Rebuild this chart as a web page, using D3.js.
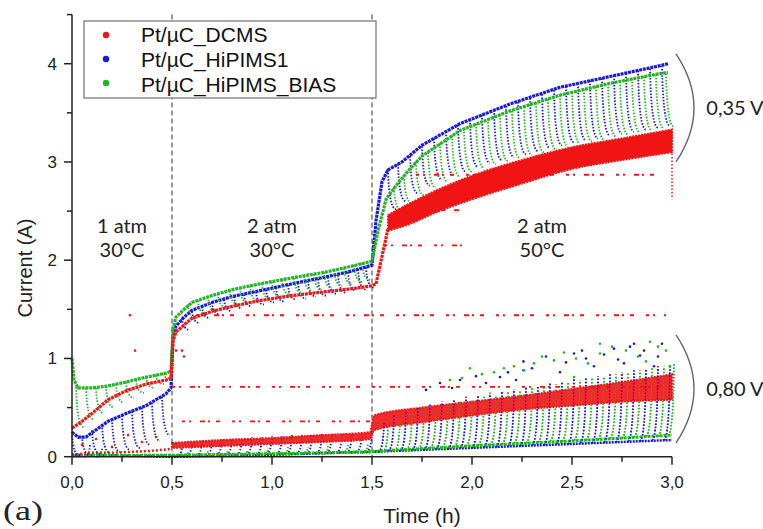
<!DOCTYPE html>
<html>
<head>
<meta charset="utf-8">
<script src="https://cdn.jsdelivr.net/npm/d3@7"></script>
<style>
  body { margin: 0; background: #fff; }
  svg { display: block; }
  .sans { font-family: "Liberation Sans", Arial, sans-serif; }
  .calib { font-family: Lato, "Open Sans", sans-serif; }
</style>
</head>
<body>
<svg id="chart" width="763" height="529"></svg>
<script>
// ---- data (time in h, current in A) ----
const seriesNames = ["Pt/µC_DCMS", "Pt/µC_HiPIMS1", "Pt/µC_HiPIMS_BIAS"];
const timeTicks = [0, 0.5, 1, 1.5, 2, 2.5, 3];
const currentTicks = [0, 1, 2, 3, 4];
const regionLabels = [["1 atm", "30°C", 0.25], ["2 atm", "30°C", 1.0], ["2 atm", "50°C", 2.35]];
const regionBounds = [0.5, 1.5];
const voltageLabels = [["0,35 V", 4.1, 3.0], ["0,80 V", 1.24, 0.14]];

// 0,35 V traces (upper envelopes)
const dcmsHigh = [[0,0.29],[0.05,0.36],[0.1,0.44],[0.18,0.58],[0.27,0.67],[0.37,0.74],[0.47,0.78],[0.495,0.8],[0.505,1.18],[0.52,1.27],[0.56,1.34],[0.6,1.41],[0.7,1.48],[0.8,1.53],[0.94,1.59],[1.1,1.64],[1.27,1.68],[1.4,1.71],[1.5,1.74],[1.52,1.76],[1.58,2.32]];
const dcmsBand = [[1.58,2.30,2.46],[1.69,2.37,2.58],[1.8,2.47,2.69],[2.0,2.62,2.86],[2.25,2.78,3.02],[2.5,2.93,3.15],[2.75,3.02,3.24],[3.0,3.10,3.33]];
const hipimsHigh = [[0,0.25],[0.03,0.2],[0.07,0.2],[0.18,0.36],[0.27,0.44],[0.37,0.52],[0.47,0.64],[0.495,0.7],[0.505,1.22],[0.52,1.33],[0.56,1.42],[0.6,1.49],[0.7,1.57],[0.8,1.63],[0.94,1.69],[1.1,1.76],[1.27,1.83],[1.4,1.89],[1.5,1.95],[1.52,2.4],[1.55,2.8],[1.58,2.92],[1.65,3.0],[1.75,3.17],[1.94,3.39],[2.19,3.59],[2.44,3.76],[2.69,3.87],[2.94,3.98],[2.98,4.0]];
const biasHigh = [[0,1.0],[0.01,0.78],[0.03,0.7],[0.1,0.7],[0.18,0.72],[0.27,0.76],[0.37,0.81],[0.47,0.85],[0.495,0.87],[0.505,1.3],[0.52,1.42],[0.56,1.5],[0.6,1.57],[0.7,1.64],[0.8,1.7],[0.94,1.76],[1.1,1.82],[1.27,1.88],[1.4,1.94],[1.5,1.99],[1.53,2.3],[1.57,2.62],[1.62,2.76],[1.69,2.93],[1.75,3.06],[1.94,3.32],[2.19,3.52],[2.44,3.68],[2.69,3.8],[2.94,3.9],[2.98,3.91]];

// decays hanging below the 0,35 V envelopes: [t, top, bottom]
const hipimsDecay = [[0.00,0.25,0.00],[0.05,0.21,0.02],[0.10,0.27,0.03],[0.15,0.33,0.04],[0.20,0.38,0.05],[0.25,0.42,0.07],[0.30,0.46,0.09],[0.35,0.50,0.12],[0.40,0.55,0.16],[0.45,0.61,0.22],
  [0.55,1.41,1.29],[0.60,1.48,1.36],[0.65,1.53,1.41],[0.70,1.57,1.45],[0.76,1.60,1.48],[0.81,1.63,1.51],[0.86,1.65,1.53],[0.92,1.68,1.55],[0.97,1.70,1.57],[1.02,1.72,1.58],[1.08,1.75,1.60],[1.13,1.77,1.61],[1.18,1.79,1.63],[1.23,1.81,1.64],[1.28,1.83,1.66],[1.33,1.85,1.67],[1.38,1.88,1.69],[1.43,1.91,1.70],[1.47,1.93,1.72],
  [1.58,2.92,2.52],[1.63,2.98,2.6],[1.69,3.06,2.68],[1.75,3.16,2.76],[1.81,3.24,2.82],[1.87,3.31,2.86],[1.93,3.38,2.9],[1.99,3.43,2.95],[2.05,3.48,2.99],[2.11,3.53,3.02],[2.17,3.57,3.05],[2.23,3.61,3.08],[2.29,3.65,3.11],[2.35,3.69,3.14],[2.41,3.73,3.17],[2.47,3.77,3.2],[2.53,3.8,3.22],[2.59,3.83,3.24],[2.65,3.85,3.27],[2.71,3.88,3.29],[2.77,3.9,3.31],[2.83,3.93,3.33],[2.89,3.95,3.35],[2.95,3.98,3.37]];
const biasDecay = [[0.02,0.71,0.30],[0.07,0.70,0.38],[0.12,0.70,0.44],[0.17,0.72,0.50],[0.22,0.74,0.55],[0.27,0.76,0.60],[0.32,0.78,0.65],[0.37,0.81,0.70],[0.42,0.83,0.74],[0.46,0.85,0.78],
  [0.58,1.55,1.40],[0.63,1.59,1.45],[0.68,1.63,1.49],[0.73,1.66,1.52],[0.79,1.69,1.55],[0.84,1.72,1.57],[0.89,1.74,1.59],[0.95,1.76,1.61],[1.00,1.78,1.63],[1.05,1.80,1.65],[1.11,1.82,1.67],[1.16,1.84,1.69],[1.21,1.86,1.70],[1.26,1.88,1.72],[1.31,1.90,1.74],[1.36,1.92,1.76],[1.41,1.95,1.78],[1.45,1.97,1.80],
  [1.61,2.74,2.5],[1.66,2.86,2.58],[1.72,3.0,2.66],[1.78,3.1,2.74],[1.84,3.19,2.8],[1.90,3.27,2.85],[1.96,3.34,2.9],[2.02,3.39,2.94],[2.08,3.44,2.98],[2.14,3.48,3.01],[2.2,3.52,3.04],[2.26,3.56,3.07],[2.32,3.6,3.1],[2.38,3.64,3.13],[2.44,3.68,3.16],[2.5,3.71,3.19],[2.56,3.74,3.21],[2.62,3.77,3.23],[2.68,3.8,3.26],[2.74,3.82,3.28],[2.8,3.85,3.3],[2.86,3.87,3.32],[2.92,3.89,3.34],[2.97,3.9,3.36]];

// 0,80 V traces (lower group)
const dcmsLow = [[0,0.02],[0.1,0.04],[0.2,0.04],[0.3,0.05],[0.4,0.06],[0.5,0.08]];
const dcmsLowBand = [[0.5,0.09,0.14],[0.75,0.11,0.17],[1.0,0.13,0.19],[1.25,0.15,0.22],[1.49,0.18,0.25],[1.51,0.27,0.42],[1.75,0.35,0.5],[2.0,0.42,0.56],[2.25,0.48,0.62],[2.5,0.52,0.69],[2.75,0.56,0.76],[3.0,0.58,0.84]];
const hipimsLow = [[0,0.02],[0.5,0.0],[1.0,0.02],[1.5,0.05],[2.0,0.09],[2.5,0.13],[3.0,0.17]];
const biasLow = [[0,0.01],[0.5,0.015],[1.0,0.03],[1.5,0.05],[1.55,0.06],[2.0,0.11],[2.5,0.16],[3.0,0.22]];
// rising streaks of the lower group: [t, bottom, top]
const hipimsRise = [[0.06,0.0,0.12],[0.12,0.0,0.08],
  [0.52,0.0,0.10],[0.57,0.01,0.14],[0.62,0.01,0.16],[0.67,0.01,0.17],[0.72,0.02,0.18],[0.77,0.02,0.19],[0.82,0.02,0.19],[0.87,0.02,0.2],[0.92,0.02,0.2],[0.97,0.03,0.21],[1.02,0.03,0.21],[1.07,0.03,0.22],[1.12,0.03,0.22],[1.17,0.03,0.23],[1.22,0.04,0.23],[1.27,0.04,0.24],[1.32,0.04,0.24],[1.37,0.04,0.25],[1.42,0.05,0.25],[1.47,0.05,0.26],
  [1.53,0.05,0.34],[1.58,0.06,0.42],[1.64,0.06,0.47],[1.70,0.07,0.5],[1.76,0.07,0.53],[1.82,0.08,0.56],[1.88,0.08,0.58],[1.94,0.09,0.61],[2.0,0.09,0.63],[2.06,0.1,0.65],[2.12,0.1,0.67],[2.18,0.11,0.69],[2.24,0.11,0.71],[2.30,0.12,0.73],[2.36,0.12,0.75],[2.42,0.13,0.77],[2.48,0.13,0.79],[2.54,0.14,0.8],[2.6,0.14,0.82],[2.66,0.15,0.84],[2.72,0.15,0.86],[2.78,0.16,0.88],[2.84,0.16,0.9],[2.9,0.17,0.92],[2.96,0.17,0.94]];
const biasRise = [[0.55,0.0,0.05],[0.65,0.01,0.06],[0.75,0.01,0.07],[0.85,0.01,0.08],[0.95,0.02,0.09],[1.05,0.02,0.1],[1.15,0.03,0.1],[1.25,0.03,0.11],[1.35,0.04,0.12],[1.45,0.04,0.13],
  [1.55,0.05,0.3],[1.61,0.06,0.38],[1.67,0.07,0.43],[1.73,0.08,0.47],[1.79,0.09,0.5],[1.85,0.1,0.53],[1.91,0.1,0.56],[1.97,0.11,0.58],[2.03,0.12,0.61],[2.09,0.12,0.63],[2.15,0.13,0.66],[2.21,0.14,0.68],[2.27,0.14,0.7],[2.33,0.15,0.72],[2.39,0.16,0.74],[2.45,0.16,0.76],[2.51,0.17,0.78],[2.57,0.17,0.8],[2.63,0.18,0.82],[2.69,0.19,0.84],[2.75,0.19,0.86],[2.81,0.2,0.88],[2.87,0.21,0.9],[2.93,0.21,0.92],[2.98,0.22,0.94]];

// stray points
const dcmsLevels = [[1.44,0.62,2.97],[0.71,0.5,3.0],[0.36,0.55,1.5],[2.87,1.72,2.97],[2.15,1.56,1.98],[2.51,1.82,1.95]];
const dcmsEndDrop = [[3.0,3.3],[3.0,2.62]];
const dcmsScatter = [[0.29,1.44],[0.315,1.08],[0.52,1.08],[0.55,1.08],[0.56,1.02],[0.7,1.5],[0.05,0.12],[0.12,0.18],[0.2,0.1],[0.28,0.22],[0.35,0.15],[0.42,0.2]];
const hipimsScatter = [[2.257,0.97],[2.257,0.88],[2.37,1.02],[2.44,0.86],[2.51,1.05],[2.57,1.0],[2.61,0.92],[2.71,1.1],[2.76,0.95],[2.81,1.15],[2.84,1.03],[2.91,0.92],[2.95,1.15],[2.22,0.78],[2.14,0.81],[2.07,0.75],[1.94,0.78],[1.84,0.75],[1.77,0.68],
  [2.3,0.9],[2.47,0.96],[2.66,1.04],[2.73,0.99],[2.86,1.08],[2.93,1.02],[2.02,0.82],[2.18,0.86],[1.9,0.7],[2.55,1.08],[2.79,1.12]];
const biasScatter = [[2.64,1.15],[2.64,1.05],[2.77,1.08],[2.89,1.17],[2.97,1.08],[2.52,1.0],[2.41,0.98],[2.31,0.95],[2.21,0.92],[2.11,0.86],[1.99,0.9],[1.89,0.78],[2.51,0.81],[2.87,0.97],[2.99,0.92],
  [2.35,1.02],[2.46,1.06],[2.58,0.95],[2.7,1.12],[2.83,1.02],[2.93,1.12],[2.16,0.9],[2.05,0.84],[1.95,0.8],[2.26,0.88]];

// ---- drawing ----
const RED = "#f01414", BLUE = "#1818e4", GREEN = "#24b424";
const colors = [RED, BLUE, GREEN];
const svg = d3.select("#chart");
const x = d3.scaleLinear().domain([0, 3]).range([72, 672]);
const y = d3.scaleLinear().domain([0, 4.5]).range([456.7, 14.6]);
const plot = svg.append("g");

// region dividers
plot.selectAll(".divider").data(regionBounds).enter().append("line")
  .attr("x1", d => x(d)).attr("x2", d => x(d))
  .attr("y1", y(4.5)).attr("y2", y(0))
  .attr("stroke", "#666").attr("stroke-width", 1.3).attr("stroke-dasharray", "5,3");

function trace(data, color, w, dash) {
  plot.append("path").attr("d", d3.line().x(d => x(d[0])).y(d => y(d[1]))(data))
    .attr("fill", "none").attr("stroke", color).attr("stroke-width", w)
    .attr("stroke-dasharray", dash).attr("stroke-linejoin", "round");
}
function band(data, color, op) {
  plot.append("path")
    .attr("d", d3.area().x(d => x(d[0])).y0(d => y(d[1])).y1(d => y(d[2])).curve(d3.curveMonotoneX)(data))
    .attr("fill", color).attr("fill-opacity", op)
    .attr("stroke", color).attr("stroke-width", 2).attr("stroke-dasharray", "2,1");
}
// decay hook: steep drop then flatten to the right
function decays(data, color, dt) {
  plot.append("g").selectAll("path").data(data).enter().append("path")
    .attr("d", d => {
      const x0 = x(d[0]), y0 = y(d[1]), y1 = y(d[2]);
      return `M${x0},${y0}Q${x0 + dt * 0.15},${y1} ${x0 + dt},${y1}`;
    })
    .attr("fill", "none").attr("stroke", color).attr("stroke-width", 1.8)
    .attr("stroke-dasharray", "1.5,1.6");
}
// rise hook: from the base, curving up into a near-vertical streak
function rises(data, color, dt, w) {
  plot.append("g").selectAll("path").data(data).enter().append("path")
    .attr("d", d => {
      const x0 = x(d[0]), y0 = y(d[1]), y1 = y(d[2]);
      return `M${x0},${y0}Q${x0 + dt * 0.85},${y0} ${x0 + dt},${y1}`;
    })
    .attr("fill", "none").attr("stroke", color).attr("stroke-width", w)
    .attr("stroke-dasharray", "1.5,1.7");
}
function dots(data, color) {
  plot.append("g").selectAll("circle").data(data).enter().append("circle")
    .attr("cx", d => x(d[0])).attr("cy", d => y(d[1])).attr("r", 1.3).attr("fill", color);
}

// lower group
trace(hipimsLow, BLUE, 2.5, "2,1");
rises(hipimsRise, BLUE, 6, 1.8);
trace(biasLow, GREEN, 3, "3,1");
rises(biasRise, GREEN, 6, 1.8);
trace(dcmsLow, RED, 2.5, "2,2");
band(dcmsLowBand, RED, 0.9);
// streaks that poke through the DCMS band
rises(hipimsRise.filter(d => d[0] > 1.5), BLUE, 6, 1.1);
rises(biasRise.filter(d => d[0] > 1.5), GREEN, 6, 1.1);
dots(hipimsScatter, BLUE);
dots(biasScatter, GREEN);

// upper group
decays(hipimsDecay, BLUE, 8);
trace(hipimsHigh, BLUE, 3.2, "3,0.8");
decays(biasDecay, GREEN, 8);
trace(biasHigh, GREEN, 3.2, "3,0.8");
trace(dcmsHigh, RED, 3.2, "3,0.8");
band(dcmsBand, RED, 1);

// DCMS stray levels
plot.append("g").selectAll("line").data(dcmsLevels).enter().append("line")
  .attr("x1", d => x(d[1])).attr("x2", d => x(d[2]))
  .attr("y1", d => y(d[0])).attr("y2", d => y(d[0]))
  .attr("stroke", RED).attr("stroke-width", 1.8)
  .attr("stroke-dasharray", "3,4,2,9,5,3,2,6,4,12");
trace(dcmsEndDrop, RED, 1.5, "1.5,2");
dots(dcmsScatter, RED);

// ---- axes ----
const axisColor = "#222";
const ax = svg.append("g").attr("class", "sans");
ax.append("line").attr("x1", x(0)).attr("x2", x(3)).attr("y1", y(0)).attr("y2", y(0))
  .attr("stroke", axisColor).attr("stroke-width", 1.5);
ax.append("line").attr("x1", x(0)).attr("x2", x(0)).attr("y1", y(0)).attr("y2", y(4.5))
  .attr("stroke", axisColor).attr("stroke-width", 1.5);

const xMinor = d3.range(0, 3.01, 0.25);
ax.selectAll(".xt").data(xMinor).enter().append("line")
  .attr("x1", d => x(d)).attr("x2", d => x(d))
  .attr("y1", y(0)).attr("y2", d => y(0) + (Math.abs(d * 2 - Math.round(d * 2)) < 1e-6 ? 8 : 5))
  .attr("stroke", axisColor).attr("stroke-width", 1.5);
const yMinor = d3.range(0, 4.51, 0.5);
ax.selectAll(".yt").data(yMinor).enter().append("line")
  .attr("y1", d => y(d)).attr("y2", d => y(d))
  .attr("x1", x(0)).attr("x2", d => x(0) - (Number.isInteger(d) ? 8 : 5))
  .attr("stroke", axisColor).attr("stroke-width", 1.5);

ax.selectAll(".xl").data(timeTicks).enter().append("text")
  .attr("x", d => x(d)).attr("y", 488)
  .attr("text-anchor", "middle").attr("font-size", 17).attr("fill", axisColor)
  .text(d => d3.format(".1f")(d).replace(".", ","));
ax.selectAll(".yl").data(currentTicks).enter().append("text")
  .attr("x", 57).attr("y", d => y(d) + 6)
  .attr("text-anchor", "end").attr("font-size", 17).attr("fill", axisColor)
  .text(d => d);

ax.append("text").attr("x", 422).attr("y", 523).attr("text-anchor", "middle")
  .attr("font-size", 21).attr("fill", axisColor).text("Time (h)");
ax.append("text").attr("transform", "translate(32,268) rotate(-90)").attr("text-anchor", "middle")
  .attr("font-size", 20).attr("fill", axisColor).text("Current (A)");
svg.append("text").attr("x", 3).attr("y", 520)
  .attr("font-family", "'Liberation Serif', 'Times New Roman', serif")
  .attr("font-size", 28).attr("textLength", 40).attr("lengthAdjust", "spacingAndGlyphs")
  .attr("fill", axisColor).text("(a)");

// ---- annotations ----
const ann = svg.append("g").attr("class", "calib")
  .attr("font-size", 20).attr("fill", "#222").attr("text-anchor", "middle");
regionLabels.forEach(r => {
  ann.append("text").attr("x", x(r[2])).attr("y", 233).text(r[0]);
  ann.append("text").attr("x", x(r[2])).attr("y", 257).text(r[1]);
});
voltageLabels.forEach(v => {
  const yt = y(v[1]), yb = y(v[2]), xs = x(3) + 4;
  svg.append("path").attr("d", `M${xs},${yt}Q${xs + 36},${(yt + yb) / 2} ${xs},${yb}`)
    .attr("fill", "none").attr("stroke", "#666").attr("stroke-width", 1.4);
  ann.append("text").attr("x", 735).attr("y", (yt + yb) / 2 + 7).text(v[0]);
});

// ---- legend ----
const lg = svg.append("g").attr("class", "sans");
lg.append("rect").attr("x", 84).attr("y", 21).attr("width", 292).attr("height", 77)
  .attr("fill", "#fff").attr("stroke", "#555").attr("stroke-width", 1);
seriesNames.forEach((name, i) => {
  lg.append("circle").attr("cx", 106).attr("cy", 35 + i * 24).attr("r", 3.2).attr("fill", colors[i]);
  lg.append("text").attr("x", 141).attr("y", 41.5 + i * 25).attr("font-size", 21)
    .attr("fill", "#111").text(name);
});
</script>
</body>
</html>
